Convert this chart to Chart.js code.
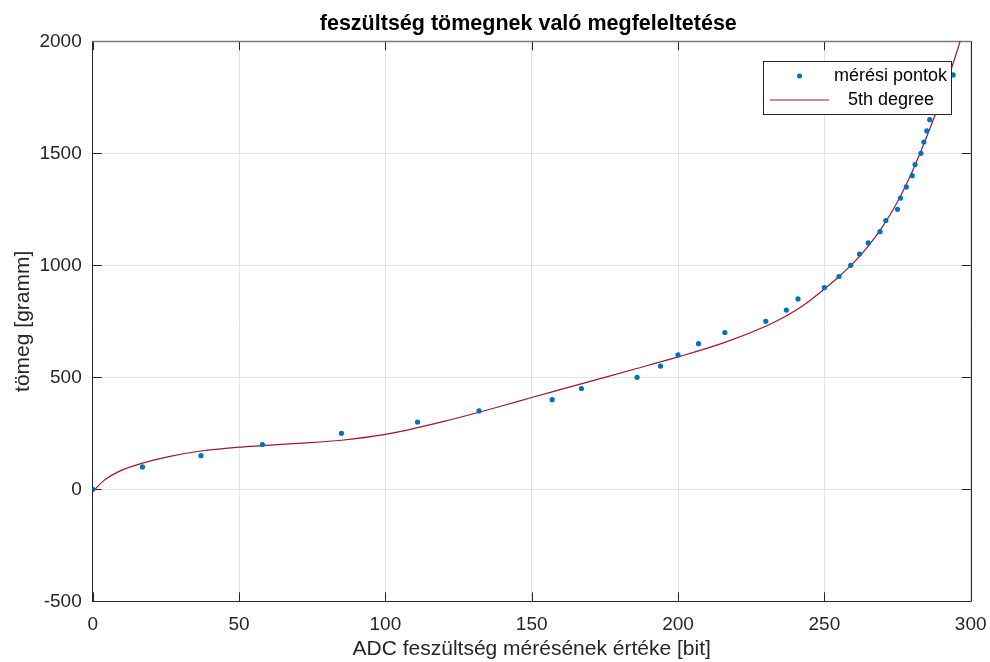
<!DOCTYPE html>
<html>
<head>
<meta charset="utf-8">
<script src="https://cdn.jsdelivr.net/npm/chart.js@4.4.1/dist/chart.umd.min.js"></script>
<style>
  html, body { margin: 0; padding: 0; background: #fff; }
  #wrap { width: 990px; height: 662px; position: relative; }
</style>
</head>
<body>
<div id="wrap"><canvas id="c" width="990" height="662"></canvas></div>
<script>
// Measured points (ADC value -> mass)
const adcValues = [0, 17, 37, 58, 85, 111, 132, 157, 167, 186, 194, 200, 207, 216, 230, 237, 241, 250, 255, 259, 262, 265, 269, 271, 275, 276, 278, 280, 281, 283, 284, 285, 286, 294];
const massValues = [0, 100, 150, 200, 250, 300, 350, 400, 450, 500, 550, 600, 650, 700, 750, 800, 850, 900, 950, 1000, 1050, 1100, 1150, 1200, 1250, 1300, 1350, 1400, 1450, 1500, 1550, 1600, 1650, 1850];

// Fitted curve (5th degree)
const fitX = [0, 4, 9, 17, 26, 37, 50, 58, 70, 85, 100, 111, 120, 132, 140, 150, 160, 170, 185, 200, 216, 230, 235, 240, 245, 250, 255, 260, 265, 270, 275, 280, 285, 290, 295, 300];
const fitY = [-10, 41, 80, 117, 146, 171, 188, 195, 205, 219, 245, 275, 303, 344, 373, 410, 446, 482, 536, 591, 656, 728, 760, 797, 842, 894, 950, 1012, 1086, 1175, 1284, 1418, 1575, 1748, 1942, 2156];

const xTicks = [0, 50, 100, 150, 200, 250, 300];
const yTicks = [-500, 0, 500, 1000, 1500, 2000];

const labels = {
  title: 'feszültség tömegnek való megfeleltetése',
  x: 'ADC feszültség mérésének értéke [bit]',
  y: 'tömeg [gramm]',
  points: 'mérési pontok',
  fit: '5th degree'
};

const FONT = "'Liberation Sans', Arial, Helvetica, sans-serif";
const AXIS_COLOR = '#262626';
const POINT_COLOR = '#0072BD';
const LINE_COLOR = '#A2142F';

const pointData = adcValues.map((x, i) => ({ x: x, y: massValues[i] }));
const fitData = fitX.map((x, i) => ({ x: x, y: fitY[i] }));

const matlabAxes = {
  id: 'matlabAxes',
  beforeDatasetsDraw(chart) {
    const { ctx, chartArea: a, scales } = chart;
    const xs = scales.x, ys = scales.y;
    const tl = 9;
    ctx.save();
    // title, centred over the plot box
    ctx.fillStyle = '#000';
    ctx.font = 'bold 21.5px ' + FONT;
    ctx.textAlign = 'center';
    ctx.textBaseline = 'alphabetic';
    ctx.fillText(labels.title, (a.left + a.right) / 2 - 3.4, 29.5);

    ctx.strokeStyle = AXIS_COLOR;
    ctx.lineWidth = 1;
    ctx.beginPath();
    xTicks.forEach(v => {
      const px = Math.round(xs.getPixelForValue(v)) + 0.5;
      ctx.moveTo(px, a.bottom); ctx.lineTo(px, a.bottom - tl);
      ctx.moveTo(px, a.top); ctx.lineTo(px, a.top + tl);
    });
    yTicks.forEach(v => {
      const py = Math.round(ys.getPixelForValue(v)) + 0.5;
      ctx.moveTo(a.left, py); ctx.lineTo(a.left + tl, py);
      ctx.moveTo(a.right, py); ctx.lineTo(a.right - tl, py);
    });
    ctx.stroke();
    // right border
    ctx.beginPath();
    ctx.moveTo(Math.round(a.right) + 0.5, a.top);
    ctx.lineTo(Math.round(a.right) + 0.5, a.bottom);
    ctx.stroke();
    // top border
    ctx.strokeStyle = '#7a7a7a';
    ctx.lineWidth = 1.5;
    ctx.beginPath();
    ctx.moveTo(a.left, Math.round(a.top) + 0.5);
    ctx.lineTo(a.right, Math.round(a.top) + 0.5);
    ctx.stroke();
    ctx.restore();
  },
  afterDatasetsDraw(chart) {
    const { ctx, chartArea: a } = chart;
    const w = 188, h = 53;
    const lx = Math.round(a.right - 19.5 - w) + 0.5;
    const ly = Math.round(a.top + 20) + 0.5;
    ctx.save();
    ctx.fillStyle = '#ffffff';
    ctx.fillRect(lx, ly, w, h);
    ctx.strokeStyle = AXIS_COLOR;
    ctx.lineWidth = 1;
    ctx.strokeRect(lx, ly, w, h);
    const r1 = ly + 14.5, r2 = ly + 38.5;
    ctx.fillStyle = POINT_COLOR;
    ctx.beginPath();
    ctx.arc(lx + 36, r1, 2.5, 0, Math.PI * 2);
    ctx.fill();
    ctx.strokeStyle = LINE_COLOR;
    ctx.lineWidth = 1.2;
    ctx.beginPath();
    ctx.moveTo(lx + 6.5, r2); ctx.lineTo(lx + 65.5, r2);
    ctx.stroke();
    ctx.fillStyle = '#000';
    ctx.font = '18px ' + FONT;
    ctx.textBaseline = 'middle';
    ctx.textAlign = 'left';
    ctx.fillText(chart.data.datasets[0].label, lx + 70.5, r1);
    ctx.fillText(chart.data.datasets[1].label, lx + 84.5, r2);
    ctx.restore();
  }
};

new Chart(document.getElementById('c'), {
  type: 'scatter',
  data: {
    datasets: [
      {
        label: labels.points,
        data: pointData,
        showLine: false,
        pointRadius: 2.6,
        pointHoverRadius: 2.6,
        pointBackgroundColor: POINT_COLOR,
        pointBorderWidth: 0,
        order: 1
      },
      {
        label: labels.fit,
        data: fitData,
        showLine: true,
        borderColor: LINE_COLOR,
        borderWidth: 1.2,
        pointRadius: 0,
        cubicInterpolationMode: 'monotone',
        fill: false,
        order: 2
      }
    ]
  },
  plugins: [matlabAxes],
  options: {
    responsive: false,
    animation: false,
    events: [],
    layout: { padding: { left: 0, right: 19.3, top: 41.3, bottom: 0 } },
    plugins: {
      legend: { display: false },
      tooltip: { enabled: false },
      title: { display: false }
    },
    scales: {
      x: {
        type: 'linear',
        min: 0, max: 300,
        afterBuildTicks: s => { s.ticks = xTicks.map(v => ({ value: v })); },
        afterFit: s => { s.height = 60.7; s.paddingLeft = 0; s.paddingRight = 0; },
        ticks: {
          color: AXIS_COLOR,
          font: { family: FONT, size: 19 },
          padding: 12,
          maxRotation: 0,
          callback: v => String(v)
        },
        grid: { color: '#e3e3e3', drawTicks: false, lineWidth: 1 },
        border: { display: true, color: AXIS_COLOR, width: 1 },
        title: {
          display: true,
          text: labels.x,
          color: AXIS_COLOR,
          font: { family: FONT, size: 21 },
          padding: { top: 0, bottom: 0 }
        }
      },
      y: {
        type: 'linear',
        min: -500, max: 2000,
        afterBuildTicks: s => { s.ticks = yTicks.map(v => ({ value: v })); },
        afterFit: s => { s.width = 92.7; s.paddingTop = 0; s.paddingBottom = 0; },
        ticks: {
          color: AXIS_COLOR,
          font: { family: FONT, size: 19 },
          padding: 11,
          callback: v => String(v)
        },
        grid: { color: '#e3e3e3', drawTicks: false, lineWidth: 1 },
        border: { display: true, color: AXIS_COLOR, width: 1 },
        title: {
          display: true,
          text: labels.y,
          color: AXIS_COLOR,
          font: { family: FONT, size: 21 },
          padding: { top: 11, bottom: 0 }
        }
      }
    }
  }
});
</script>
</body>
</html>
